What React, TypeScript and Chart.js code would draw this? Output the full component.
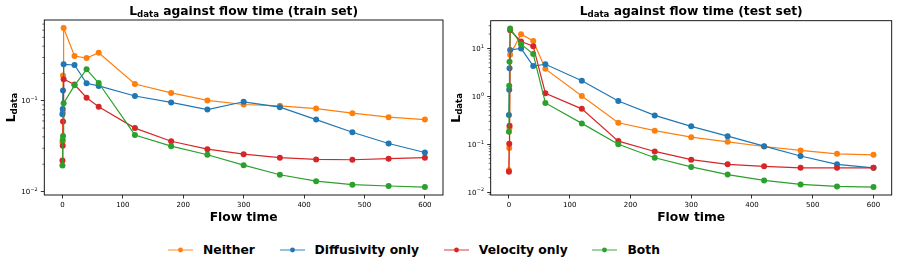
import React, { useEffect, useRef } from 'react';
import { Chart, registerables } from 'chart.js';

Chart.register(...registerables);

// ---- data ----
const flowTimes = [0, 0.5, 1, 2, 20, 40, 60, 120, 180, 240, 300, 360, 420, 480, 540, 600];
const xTicks = [0, 100, 200, 300, 400, 500, 600];

const seriesNames = ['Neither', 'Diffusivity only', 'Velocity only', 'Both'];
const seriesColors = ['#ff7f0e', '#1f77b4', '#d62728', '#2ca02c'];

const trainNeither = [0.035, 0.075, 0.19, 0.635, 0.311, 0.296, 0.338, 0.153, 0.122, 0.101, 0.091, 0.088, 0.082, 0.073, 0.066, 0.062];
const trainDiffusivity = [0.071, 0.081, 0.13, 0.252, 0.248, 0.156, 0.146, 0.113, 0.096, 0.08, 0.0975, 0.085, 0.062, 0.045, 0.0338, 0.0269];
const trainVelocity = [0.022, 0.032, 0.059, 0.173, 0.151, 0.108, 0.086, 0.05, 0.0358, 0.0293, 0.0258, 0.0236, 0.0226, 0.0224, 0.023, 0.0236];
const trainBoth = [0.0194, 0.037, 0.041, 0.094, 0.148, 0.222, 0.157, 0.042, 0.0316, 0.0254, 0.0195, 0.0153, 0.013, 0.0119, 0.0115, 0.0112];

const testNeither = [0.0285, 0.083, 0.221, 7.4, 19.9, 14.4, 3.75, 1.02, 0.28, 0.192, 0.14, 0.112, 0.0896, 0.074, 0.063, 0.06];
const testDiffusivity = [0.405, 1.38, 3.86, 9.3, 10, 4.3, 4.68, 2.11, 0.8, 0.4, 0.236, 0.147, 0.091, 0.0566, 0.038, 0.032];
const testVelocity = [0.0264, 0.102, 0.243, 24, 14, 11.2, 1.16, 0.547, 0.116, 0.0705, 0.0475, 0.038, 0.0345, 0.032, 0.032, 0.032];
const testBoth = [0.183, 1.67, 5.3, 26, 12.3, 7.65, 0.728, 0.272, 0.1, 0.052, 0.0335, 0.0232, 0.0175, 0.0144, 0.0131, 0.0127];

const trainMajors = [0.01, 0.1];
const testMajors = [0.01, 0.1, 1, 10];

const FONT = '"DejaVu Sans", sans-serif';
const TICK_SIZE = 7;

function drawSubText(ctx: CanvasRenderingContext2D, main: string, sub: string, rest: string, cx: number, baseline: number, size: number) {
  const mainFont = `bold ${size}px ${FONT}`;
  const subFont = `bold ${size * 0.7}px ${FONT}`;
  ctx.font = mainFont;
  const w1 = ctx.measureText(main).width;
  const w3 = ctx.measureText(rest).width;
  ctx.font = subFont;
  const w2 = ctx.measureText(sub).width;
  let x = cx - (w1 + w2 + w3) / 2;
  ctx.textAlign = 'left';
  ctx.textBaseline = 'alphabetic';
  ctx.fillStyle = '#000';
  ctx.font = mainFont;
  ctx.fillText(main, x, baseline);
  x += w1;
  ctx.font = subFont;
  ctx.fillText(sub, x, baseline + size * 0.2);
  x += w2;
  ctx.font = mainFont;
  ctx.fillText(rest, x, baseline);
}

const decorPlugin = {
  id: 'decor',
  afterDraw(chart: any, _args: any, opts: any) {
    const { ctx, chartArea: a, scales } = chart;
    ctx.save();
    // frame
    ctx.strokeStyle = '#000';
    ctx.lineWidth = 0.9;
    ctx.strokeRect(a.left, a.top, a.right - a.left, a.bottom - a.top);
    // minor ticks
    const ys = scales.y;
    const lo = Math.floor(Math.log10(ys.min));
    const hi = Math.ceil(Math.log10(ys.max));
    ctx.beginPath();
    for (let e = lo; e <= hi; e++) {
      for (let m = 2; m <= 9; m++) {
        const v = m * Math.pow(10, e);
        if (v < ys.min || v > ys.max) continue;
        const py = ys.getPixelForValue(v);
        ctx.moveTo(a.left - 2, py);
        ctx.lineTo(a.left, py);
      }
    }
    ctx.lineWidth = 0.6;
    ctx.stroke();
    // y tick labels (mathtext style 10^e)
    const baseFont = `${TICK_SIZE}px ${FONT}`;
    const supFont = `${TICK_SIZE * 0.7}px ${FONT}`;
    ctx.fillStyle = '#000';
    ctx.textAlign = 'left';
    ctx.textBaseline = 'alphabetic';
    for (const t of ys.ticks) {
      const v = t.value;
      const e = Math.round(Math.log10(v));
      const expStr = e < 0 ? '\u2212' + String(-e) : String(e);
      ctx.font = baseFont;
      const wb = ctx.measureText('10').width;
      ctx.font = supFont;
      const we = ctx.measureText(expStr).width;
      const right = a.left - 3.5 - 3.5;
      const x0 = right - wb - we;
      const py = ys.getPixelForValue(v);
      const base = py + 2.6;
      ctx.font = baseFont;
      ctx.fillText('10', x0, base);
      ctx.font = supFont;
      ctx.fillText(expStr, x0 + wb + 0.3, base - 3.2);
    }
    const cx = (a.left + a.right) / 2;
    const cy = (a.top + a.bottom) / 2;
    // title
    drawSubText(ctx, 'L', 'data', ` against flow time (${opts.setName})`, cx, 15, 12.3);
    // x label
    ctx.font = `bold 12.3px ${FONT}`;
    ctx.textAlign = 'center';
    ctx.textBaseline = 'alphabetic';
    ctx.fillStyle = '#000';
    ctx.fillText('Flow time', cx, 220.5);
    // y label
    ctx.translate(opts.yLabelX, cy);
    ctx.rotate(-Math.PI / 2);
    drawSubText(ctx, 'L', 'data', '', 0, 0, 12.3);
    ctx.restore();
  },
};

function logRange(vals: number[]) {
  const lmin = Math.log10(Math.min(...vals));
  const lmax = Math.log10(Math.max(...vals));
  const m = (lmax - lmin) * 0.05;
  return [Math.pow(10, lmin - m), Math.pow(10, lmax + m)];
}

function buildConfig(series: number[][], majors: number[], setName: string, yWidth: number, padTop: number, padRight: number, yLabelX: number): any {
  const all = series.flat();
  const [ymin, ymax] = logRange(all);
  const xr = Math.max(...flowTimes) - Math.min(...flowTimes);
  const xmin = Math.min(...flowTimes) - 0.05 * xr;
  const xmax = Math.max(...flowTimes) + 0.05 * xr;
  return {
    type: 'line',
    data: {
      datasets: series.map((vals, i) => ({
        label: seriesNames[i],
        data: flowTimes.map((t, j) => ({ x: t, y: vals[j] })),
        borderColor: seriesColors[i],
        backgroundColor: seriesColors[i],
        borderWidth: 1.2,
        pointRadius: 3,
        pointBorderWidth: 0,
        pointBackgroundColor: seriesColors[i],
        tension: 0,
        order: series.length - i,
      })),
    },
    options: {
      responsive: false,
      animation: false,
      devicePixelRatio: 1,
      layout: { padding: { top: padTop, right: padRight, left: 0, bottom: 0 } },
      plugins: {
        legend: { display: false },
        tooltip: { enabled: false },
        title: { display: false },
        decor: { setName, yLabelX },
      },
      scales: {
        x: {
          type: 'linear',
          min: xmin,
          max: xmax,
          afterBuildTicks: (s: any) => {
            s.ticks = xTicks.map((v) => ({ value: v }));
          },
          afterFit: (s: any) => {
            s.height = 35;
          },
          grid: { display: true, drawOnChartArea: false, drawTicks: true, tickLength: 3.5, color: '#000', lineWidth: 0.8 },
          border: { display: false },
          ticks: {
            font: { family: FONT, size: TICK_SIZE },
            color: '#000',
            padding: 2.5,
            maxRotation: 0,
            autoSkip: false,
            callback: (v: any) => String(v),
          },
        },
        y: {
          type: 'logarithmic',
          min: ymin,
          max: ymax,
          afterBuildTicks: (s: any) => {
            s.ticks = majors.filter((v) => v >= ymin && v <= ymax).map((v) => ({ value: v }));
          },
          afterFit: (s: any) => {
            s.width = yWidth;
          },
          grid: { display: true, drawOnChartArea: false, drawTicks: true, tickLength: 3.5, color: '#000', lineWidth: 0.8 },
          border: { display: false },
          ticks: {
            font: { family: FONT, size: TICK_SIZE },
            color: '#000',
            padding: 4,
            autoSkip: false,
            callback: () => '',
          },
        },
      },
    },
    plugins: [decorPlugin],
  };
}

function Panel(props: { series: number[][]; majors: number[]; setName: string; left: number; width: number; yWidth: number; padTop: number; padRight: number; yLabelX: number }) {
  const ref = useRef<HTMLCanvasElement>(null);
  useEffect(() => {
    if (!ref.current) return;
    const chart = new Chart(ref.current, buildConfig(props.series, props.majors, props.setName, props.yWidth, props.padTop, props.padRight, props.yLabelX));
    return () => chart.destroy();
  }, []);
  return (
    <canvas
      ref={ref}
      width={props.width}
      height={230}
      style={{ position: 'absolute', left: props.left, top: 0, width: props.width, height: 230 }}
    />
  );
}

function LegendItem(props: { name: string; color: string; last: boolean }) {
  return (
    <div style={{ display: 'flex', alignItems: 'center', marginRight: props.last ? 0 : 24.7 }}>
      <svg width={25} height={10} style={{ marginRight: 10, display: 'block' }}>
        <line x1={0} y1={5} x2={25} y2={5} stroke={props.color} strokeOpacity={0.5} strokeWidth={1.8} />
        <circle cx={12.5} cy={5} r={2.4} fill={props.color} />
      </svg>
      <span style={{ fontFamily: FONT, fontWeight: 'bold', fontSize: 12.3, color: '#000', lineHeight: '14px', whiteSpace: 'nowrap' }}>{props.name}</span>
    </div>
  );
}

export default function App() {
  return (
    <div style={{ position: 'absolute', left: 0, top: 0, width: 897, height: 269, background: '#fff', overflow: 'hidden' }}>
      <Panel
        series={[trainNeither, trainDiffusivity, trainVelocity, trainBoth]}
        majors={trainMajors}
        setName="train set"
        left={0}
        width={448}
        yWidth={44.3}
        padTop={20}
        padRight={5}
        yLabelX={14.7}
      />
      <Panel
        series={[testNeither, testDiffusivity, testVelocity, testBoth]}
        majors={testMajors}
        setName="test set"
        left={448}
        width={449}
        yWidth={42.7}
        padTop={20.7}
        padRight={5.3}
        yLabelX={12}
      />
      <div style={{ position: 'absolute', left: 168, top: 243, height: 14, display: 'flex', alignItems: 'center' }}>
        {seriesNames.map((n, i) => (
          <LegendItem key={n} name={n} color={seriesColors[i]} last={i === seriesNames.length - 1} />
        ))}
      </div>
    </div>
  );
}
